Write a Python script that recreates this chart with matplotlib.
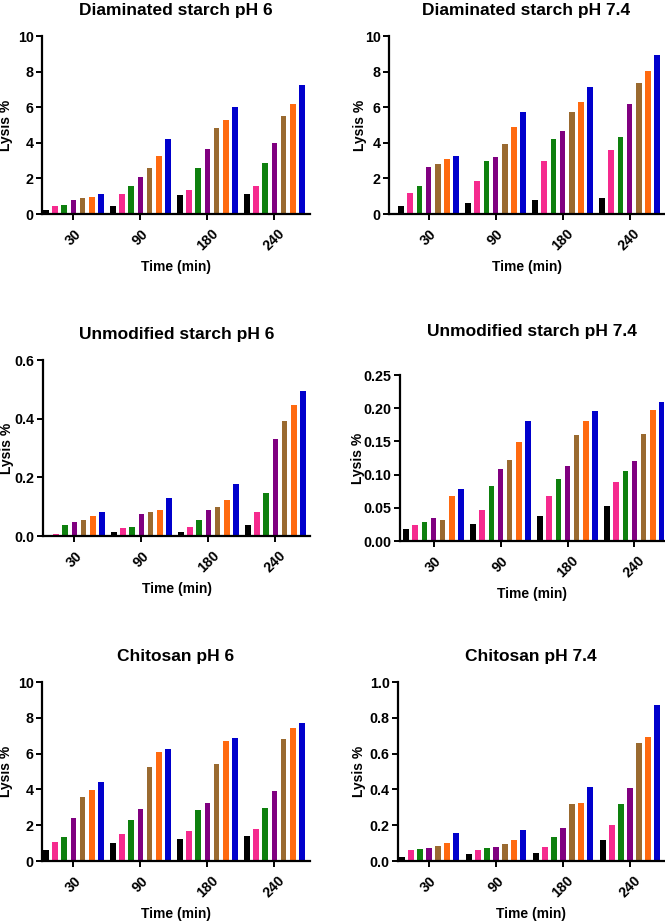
import numpy as np
import matplotlib
matplotlib.use("Agg")
import matplotlib.pyplot as plt

plt.rcParams['font.family'] = ['Liberation Sans', 'DejaVu Sans']
plt.rcParams['font.weight'] = 'bold'

# === Daten ===
times = ["30", "90", "180", "240"]
colors = ["#000000", "#F52A8E", "#0E800E", "#800080", "#9A6A30", "#FF6A10", "#0000CC"]

titles = ["Diaminated starch pH 6", "Diaminated starch pH 7.4",
          "Unmodified starch pH 6", "Unmodified starch pH 7.4",
          "Chitosan pH 6", "Chitosan pH 7.4"]

# rows = time points, columns = the 7 series (black .. blue)
diam_ph6 = [[0.25, 0.45, 0.50, 0.80, 0.90, 0.95, 1.10],
            [0.45, 1.12, 1.57, 2.10, 2.60, 3.27, 4.20],
            [1.07, 1.33, 2.60, 3.63, 4.82, 5.28, 6.02],
            [1.14, 1.59, 2.85, 3.97, 5.52, 6.16, 7.22]]
diam_ph74 = [[0.43, 1.17, 1.60, 2.63, 2.82, 3.10, 3.28],
             [0.62, 1.83, 3.00, 3.23, 3.92, 4.90, 5.75],
             [0.77, 2.98, 4.20, 4.66, 5.73, 6.31, 7.11],
             [0.90, 3.58, 4.33, 6.19, 7.37, 8.06, 8.92]]
unmod_ph6 = [[0.003, 0.008, 0.039, 0.049, 0.056, 0.068, 0.082],
             [0.014, 0.028, 0.031, 0.075, 0.083, 0.0875, 0.128],
             [0.014, 0.032, 0.056, 0.0875, 0.100, 0.124, 0.177],
             [0.0375, 0.083, 0.148, 0.330, 0.392, 0.447, 0.494]]
unmod_ph74 = [[0.018, 0.0235, 0.029, 0.034, 0.0315, 0.0675, 0.078],
              [0.026, 0.0465, 0.083, 0.108, 0.1215, 0.1495, 0.1805],
              [0.038, 0.0685, 0.094, 0.1135, 0.1595, 0.180, 0.1965],
              [0.053, 0.089, 0.105, 0.121, 0.161, 0.1975, 0.2095]]
chito_ph6 = [[0.62, 1.08, 1.35, 2.43, 3.57, 3.94, 4.39],
             [1.03, 1.50, 2.30, 2.90, 5.25, 6.07, 6.28],
             [1.21, 1.68, 2.84, 3.25, 5.42, 6.73, 6.88],
             [1.42, 1.76, 2.97, 3.93, 6.79, 7.42, 7.72]]
chito_ph74 = [[0.022, 0.062, 0.067, 0.075, 0.086, 0.100, 0.155],
              [0.037, 0.063, 0.075, 0.080, 0.097, 0.116, 0.172],
              [0.047, 0.080, 0.136, 0.185, 0.316, 0.325, 0.411],
              [0.116, 0.202, 0.318, 0.406, 0.658, 0.690, 0.869]]

datasets = [diam_ph6, diam_ph74, unmod_ph6, unmod_ph74, chito_ph6, chito_ph74]
yticks = [np.arange(0, 11, 2), np.arange(0, 11, 2),
          np.arange(0, 0.61, 0.2), np.arange(0, 0.251, 0.05),
          np.arange(0, 11, 2), np.arange(0, 1.01, 0.2)]
yfmt = ["%d", "%d", "%.1f", "%.2f", "%d", "%.1f"]

# === Layout (pixels in a 665x921 picture) ===
W, H = 665, 921
boxes = [(42, 310, 36, 214), (389, 664, 36, 214),
         (43, 310, 360, 536), (400, 664, 375, 541),
         (42, 310, 682, 861), (398, 664, 682, 861)]
xleft = [-0.47, -0.59, -0.47, -0.50, -0.47, -0.46]
title_pad = [15, 15, 15, 28, 15, 15]
ylab_x = [13, 367, 14, 365, 13, 366]   # right edge of the rotated y label

fig = plt.figure(figsize=(W / 100, H / 100), dpi=100)

pitch = 0.135
bw = 0.088
x = np.arange(len(times))

for i, data in enumerate(datasets):
    x0, x1, ytop, ybot = boxes[i]
    ax = fig.add_axes([x0 / W, 1 - ybot / H, (x1 - x0) / W, (ybot - ytop) / H])
    arr = np.array(data)
    for k in range(arr.shape[1]):
        ax.bar(x + (k - 3) * pitch, arr[:, k], width=bw, color=colors[k], linewidth=0)
    ax.set_xlim(xleft[i], xleft[i] + (x1 - x0) / 67.0)
    ax.set_ylim(yticks[i][0], yticks[i][-1])
    ax.set_yticks(yticks[i])
    ax.set_yticklabels([yfmt[i] % v for v in yticks[i]])
    ax.set_xticks(x)
    ax.set_xticklabels(times, rotation=45, ha="center", va="top")
    for s in ["top", "right"]:
        ax.spines[s].set_visible(False)
    for s in ["left", "bottom"]:
        ax.spines[s].set_linewidth(1.6)
    ax.tick_params(width=1.4, length=4, labelsize=10.3, pad=2)
    ax.tick_params(axis="x", pad=5)
    ax.set_title(titles[i], fontsize=12.5, fontweight="bold", pad=title_pad[i])
    ax.set_xlabel("Time (min)", fontsize=10, fontweight="bold", labelpad=4.5)
    ax.set_ylabel("Lysis %", fontsize=10, fontweight="bold")
    ax.yaxis.set_label_coords((ylab_x[i] - x0) / (x1 - x0), 0.5)

fig.savefig("out.png", dpi=100)
